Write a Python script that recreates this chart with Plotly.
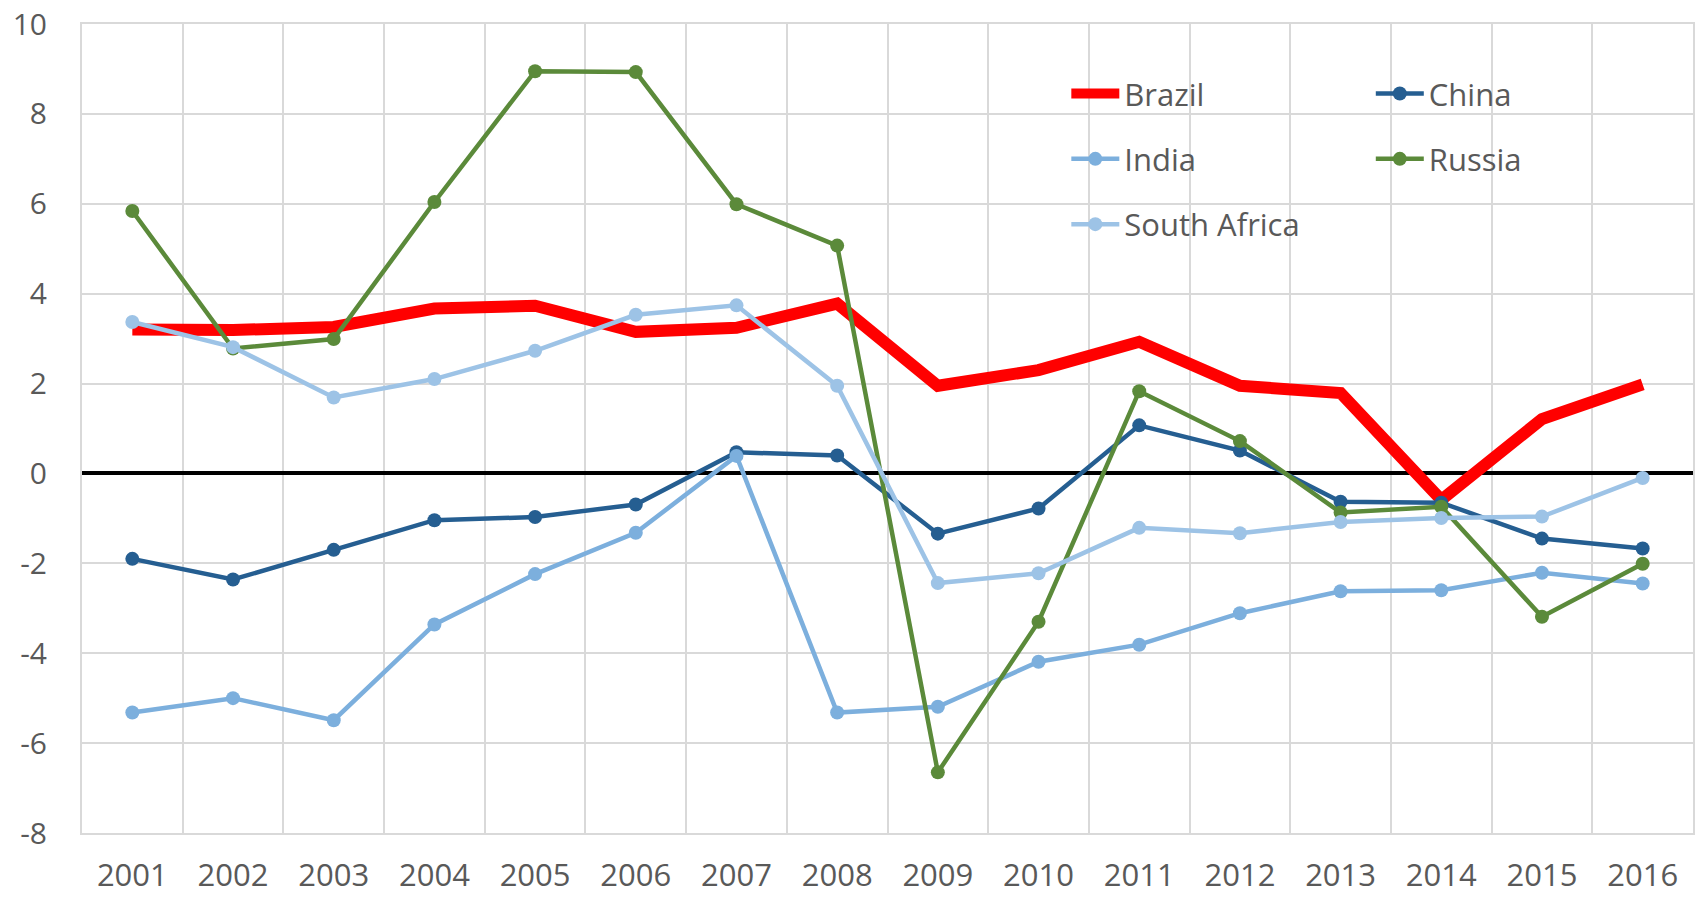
import plotly.graph_objects as go

years = [str(y) for y in range(2001, 2017)]

brazil = [3.20, 3.19, 3.26, 3.67, 3.73, 3.15, 3.24, 3.78, 1.95, 2.30, 2.93,
          1.95, 1.79, -0.59, 1.21, 1.98]
china = [-1.90, -2.36, -1.70, -1.04, -0.97, -0.69, 0.47, 0.40, -1.34, -0.78,
         1.07, 0.51, -0.63, -0.65, -1.45, -1.67]
india = [-5.32, -5.00, -5.49, -3.36, -2.24, -1.32, 0.39, -5.32, -5.19, -4.19,
         -3.81, -3.11, -2.62, -2.60, -2.21, -2.45]
russia = [5.84, 2.78, 2.99, 6.04, 8.95, 8.93, 5.99, 5.07, -6.65, -3.30,
          1.83, 0.72, -0.87, -0.74, -3.19, -2.01]
south_africa = [3.37, 2.81, 1.69, 2.10, 2.73, 3.53, 3.74, 1.95, -2.44, -2.22,
                -1.21, -1.33, -1.08, -0.99, -0.96, -0.10]

y_ticks = [-8, -6, -4, -2, 0, 2, 4, 6, 8, 10]
y_labels = ["-8", "-6", "-4", "-2", "0", "2", "4", "6", "8", "10"]

font = "Open Sans"
grey = "#595959"
grid = "#D9D9D9"

fig = go.Figure()

# Brazil first so the others sit on top of it
fig.add_trace(go.Scatter(x=years, y=brazil, name="Brazil", mode="lines",
                         line=dict(color="#FF0000", width=12),
                         legend="legend", legendgroup="b"))
fig.add_trace(go.Scatter(x=years, y=china, name="China", mode="lines+markers",
                         line=dict(color="#255E91", width=4.5),
                         marker=dict(size=14),
                         legend="legend2", legendgroup="c"))
fig.add_trace(go.Scatter(x=years, y=india, name="India", mode="lines+markers",
                         line=dict(color="#7CAFDD", width=4.5),
                         marker=dict(size=14),
                         legend="legend", legendgroup="i"))
fig.add_trace(go.Scatter(x=years, y=russia, name="Russia", mode="lines+markers",
                         line=dict(color="#5B8A3A", width=4.5),
                         marker=dict(size=14),
                         legend="legend2", legendgroup="r"))
fig.add_trace(go.Scatter(x=years, y=south_africa, name="South Africa",
                         mode="lines+markers",
                         line=dict(color="#9DC3E6", width=4.5),
                         marker=dict(size=14),
                         legend="legend", legendgroup="s"))

legend_style = dict(font=dict(family=font, size=31, color=grey),
                    bgcolor="rgba(0,0,0,0)", tracegroupgap=22,
                    itemwidth=48,
                    xanchor="left", yanchor="top", y=0.947)

# page body adds an 8px offset, so the figure is a little smaller than the window
fig.update_layout(
    width=1696, height=890,
    margin=dict(l=74, r=11, t=16, b=65),
    plot_bgcolor="white", paper_bgcolor="white",
    font=dict(family=font, size=31, color=grey),
    legend=dict(x=0.611, **legend_style),
    legend2=dict(x=0.8, **legend_style),
    xaxis=dict(type="category", tickson="boundaries", range=[-0.5, 15.5],
               showgrid=True, gridcolor=grid, gridwidth=2, ticks="",
               showline=True, linecolor=grid, linewidth=2, mirror=True,
               automargin=False, ticklabelstandoff=14,
               tickfont=dict(size=31, color=grey)),
    yaxis=dict(range=[-8, 10], tickvals=y_ticks, ticktext=y_labels,
               showgrid=True, gridcolor=grid, gridwidth=2,
               zeroline=True, zerolinecolor="black", zerolinewidth=3.5,
               showline=True, linecolor=grid, linewidth=2, mirror=True,
               automargin=False, ticks="", ticklabelstandoff=27,
               ticklabeloverflow="allow",
               tickfont=dict(size=30, color=grey)),
)

fig.write_html("out.html")
